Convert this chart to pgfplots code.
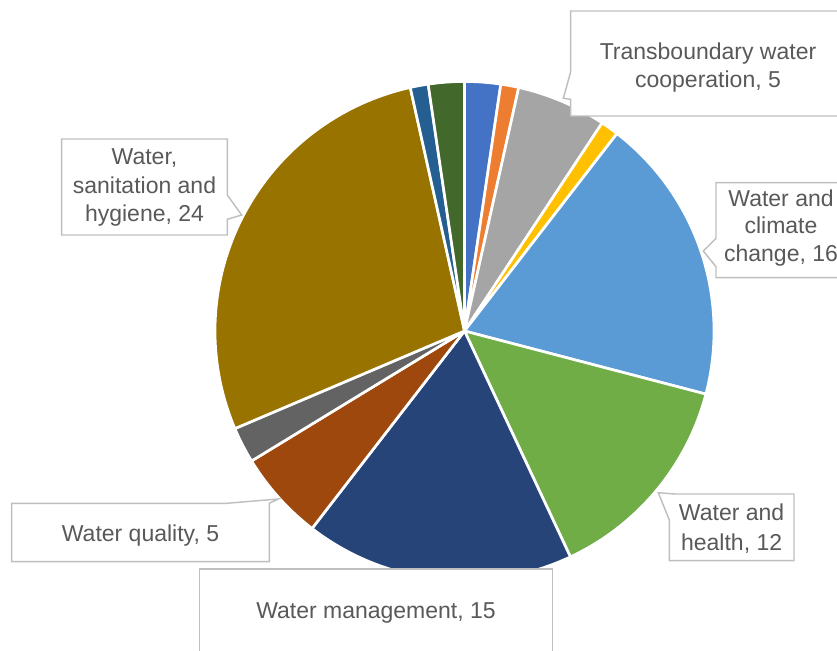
\documentclass[border=0pt]{standalone}
\usepackage{pgfplots}
\pgfplotsset{compat=1.18}
\usepackage{pgfplotstable}
\usepackage{fontspec}
\setmainfont{Liberation Sans}
\definecolor{c1}{HTML}{4472C4}
\definecolor{c2}{HTML}{ED7D31}
\definecolor{c3}{HTML}{A5A5A5}
\definecolor{c4}{HTML}{FFC000}
\definecolor{c5}{HTML}{5B9BD5}
\definecolor{c6}{HTML}{70AD47}
\definecolor{c7}{HTML}{264478}
\definecolor{c8}{HTML}{9E480E}
\definecolor{c9}{HTML}{636363}
\definecolor{c10}{HTML}{997300}
\definecolor{c11}{HTML}{255E91}
\definecolor{c12}{HTML}{43682B}
\definecolor{txt}{HTML}{595959}
\definecolor{boxline}{HTML}{BFBFBF}
% slices clockwise from 12 o'clock
\pgfplotstableread{
value color
2 c1
1 c2
5 c3
1 c4
16 c5
12 c6
15 c7
5 c8
2 c9
24 c10
1 c11
2 c12
}\piedata
\begin{document}
\begin{tikzpicture}[font=\fontsize{17.25pt}{20.5pt}\selectfont]
\def\cx{464.5}\def\cy{319}\def\rr{249.5}
\begin{axis}[x=0.75pt, y=0.75pt, xmin=0, xmax=837, ymin=0, ymax=650,
  hide axis, clip=false]
\coordinate (BL) at (axis cs:0,0);
\coordinate (TR) at (axis cs:837,650);
% total
\gdef\total{0}
\pgfplotsinvokeforeach{0,...,11}{%
  \pgfplotstablegetelem{#1}{value}\of{\piedata}%
  \pgfmathsetmacro{\tmp}{\total+\pgfplotsretval}\global\let\total\tmp
}
\gdef\cum{0}
\pgfplotsinvokeforeach{0,...,11}{%
  \pgfplotstablegetelem{#1}{value}\of{\piedata}\let\v\pgfplotsretval
  \pgfplotstablegetelem{#1}{color}\of{\piedata}\let\col\pgfplotsretval
  \pgfmathsetmacro{\sa}{90-\cum/\total*360}%
  \pgfmathsetmacro{\newcum}{\cum+\v}%
  \pgfmathsetmacro{\ea}{90-\newcum/\total*360}%
  \global\let\cum\newcum
  \pgfmathsetmacro{\px}{\cx+\rr*cos(\sa)}%
  \pgfmathsetmacro{\py}{\cy+\rr*sin(\sa)}%
  \edef\temp{\noexpand\filldraw[fill=\col, draw=white, line width=2pt, line join=round]
    (axis cs:\cx,\cy) -- (axis cs:\px,\py) arc[start angle=\sa, end angle=\ea, radius=187.125pt] -- cycle;}%
  \temp
}
% callout boxes
\tikzset{callout/.style={fill=white, draw=boxline, line width=1.1pt, line join=miter}}
% Transboundary
\draw[callout] (axis cs:570.7,639) -- (axis cs:845,639) -- (axis cs:845,534) -- (axis cs:570.7,534)
  -- (axis cs:570.7,550.7) -- (axis cs:563.3,551.7) -- (axis cs:570.7,578.3) -- cycle;
\node[txt, anchor=base] at (axis cs:708,590) {Transboundary water};
\node[txt, anchor=base] at (axis cs:708,562.7) {cooperation, 5};
% climate
\draw[callout] (axis cs:716,467.3) -- (axis cs:846,467.3) -- (axis cs:846,372.3) -- (axis cs:716,372.3)
  -- (axis cs:716,383.3) -- (axis cs:703.3,399) -- (axis cs:716,411.7) -- cycle;
\node[txt, anchor=base] at (axis cs:781,443.3) {Water and};
\node[txt, anchor=base] at (axis cs:781,416) {climate};
\node[txt, anchor=base] at (axis cs:781,388.3) {change, 16};
% health
\draw[callout] (axis cs:675,156) -- (axis cs:794,156) -- (axis cs:794,89.3) -- (axis cs:669.3,89.3)
  -- (axis cs:669.3,130) -- (axis cs:658.3,157.3) -- cycle;
\node[txt, anchor=base] at (axis cs:731.6,129.3) {Water and};
\node[txt, anchor=base] at (axis cs:731.6,100) {health, 12};
% quality
\draw[callout] (axis cs:11.7,146.7) -- (axis cs:226.7,146.7) -- (axis cs:278.3,151) -- (axis cs:269.3,146.7)
  -- (axis cs:269.3,88.3) -- (axis cs:11.7,88.3) -- cycle;
\node[txt, anchor=base] at (axis cs:140.5,109) {Water quality, 5};
% management
\draw[callout] (axis cs:199.3,81) -- (axis cs:552.7,81) -- (axis cs:552.7,-80) -- (axis cs:199.3,-80) -- cycle;
\node[txt, anchor=base] at (axis cs:376,31.7) {Water management, 15};
% WASH
\draw[callout] (axis cs:61.7,511) -- (axis cs:227.3,511) -- (axis cs:227.3,455) -- (axis cs:241.7,435)
  -- (axis cs:227.3,430.7) -- (axis cs:227.3,415) -- (axis cs:61.7,415) -- cycle;
\node[txt, anchor=base] at (axis cs:144.5,485) {Water,};
\node[txt, anchor=base] at (axis cs:144.5,456.7) {sanitation and};
\node[txt, anchor=base] at (axis cs:144.5,428.3) {hygiene, 24};
\end{axis}
\pgfresetboundingbox
\path[use as bounding box] (BL) rectangle (TR);
\end{tikzpicture}
\end{document}
